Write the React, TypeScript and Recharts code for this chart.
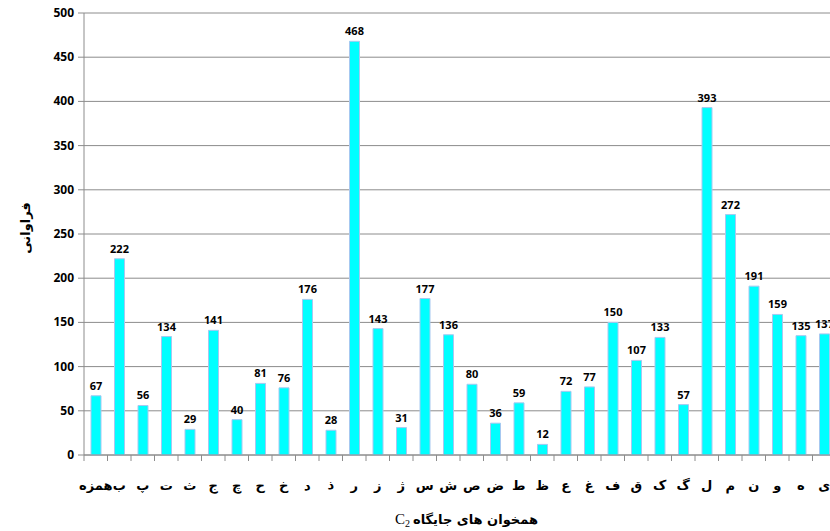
import React from "react";
import { BarChart, Bar, XAxis, YAxis, CartesianGrid, LabelList } from "recharts";

const categories = ["همزه","ب","پ","ت","ث","ج","چ","ح","خ","د","ذ","ر","ز","ژ","س","ش","ص","ض","ط","ظ","ع","غ","ف","ق","ک","گ","ل","م","ن","و","ه","ی"];
const frequencies = [67,222,56,134,29,141,40,81,76,176,28,468,143,31,177,136,80,36,59,12,72,77,150,107,133,57,393,272,191,159,135,137];
const yTicks = [0,50,100,150,200,250,300,350,400,450,500];
const yTitle = "فراوانی";
const xTitle = "همخوان های جایگاه";

const data = categories.map((c, i) => ({ name: c, value: frequencies[i] }));

const CHART_W = 850;
const CHART_H = 531;
const LEFT = 84;
const RIGHT_MARGIN = 14;
const TOP = 13;
const XAXIS_H = 76;
const PLOT_W = CHART_W - LEFT - RIGHT_MARGIN;
const HALF_BAND = PLOT_W / categories.length / 2;
const FONT = "'Noto Sans', 'DejaVu Sans', sans-serif";
const GRID = "#8c8c8c";

const XTick = (props: any) => {
  const { x, y, payload, index } = props;
  return (
    <g>
      <line x1={x - HALF_BAND} x2={x - HALF_BAND} y1={y - 8} y2={y - 2} stroke={GRID} />
      {index === categories.length - 1 ? (
        <line x1={x + HALF_BAND} x2={x + HALF_BAND} y1={y - 8} y2={y - 2} stroke={GRID} />
      ) : null}
      <text x={x} y={y + 27} textAnchor="middle" fontFamily="'DejaVu Sans', sans-serif" fontWeight="bold" fontSize={13} fill="#000">
        {payload.value}
      </text>
    </g>
  );
};

const YTick = (props: any) => {
  const { x, y, payload } = props;
  return (
    <text x={x - 2} y={y} dy={4} textAnchor="end" fontFamily={FONT} fontWeight="bold" fontSize={12} fill="#000">
      {payload.value}
    </text>
  );
};

export default function App() {
  const plotCenterX = LEFT + PLOT_W / 2;
  return (
    <div style={{ position: "fixed", left: 0, top: 0, width: 830, height: 531, overflow: "hidden", background: "#fff" }}>
      <BarChart
        width={CHART_W}
        height={CHART_H}
        data={data}
        margin={{ top: TOP, right: RIGHT_MARGIN, bottom: 0, left: 0 }}
        barCategoryGap={0}
      >
        <CartesianGrid vertical={false} stroke={GRID} strokeWidth={1} />
        <XAxis
          dataKey="name"
          height={XAXIS_H}
          interval={0}
          tickLine={false}
          axisLine={{ stroke: GRID }}
          tick={<XTick />}
        />
        <YAxis
          width={LEFT}
          domain={[0, 500]}
          ticks={yTicks}
          interval={0}
          axisLine={{ stroke: GRID }}
          tickLine={{ stroke: GRID }}
          tickSize={6}
          tick={<YTick />}
        />
        <Bar dataKey="value" fill="#00ffff" stroke="#a6c8f0" strokeWidth={1} barSize={10} isAnimationActive={false}>
          <LabelList
            dataKey="value"
            position="top"
            offset={6}
            style={{ fontFamily: FONT, fontWeight: "bold", fontSize: 11, fill: "#000" }}
          />
        </Bar>
        <text
          x={26}
          y={228}
          transform="rotate(-90 26 228)"
          textAnchor="middle"
          dominantBaseline="middle"
          fontFamily="'DejaVu Sans', sans-serif"
          fontWeight="bold"
          fontSize={13}
          fill="#000"
        >
          {yTitle}
        </text>
        <text
          x={plotCenterX - 47}
          y={524}
          textAnchor="start"
          fontFamily="'DejaVu Sans', sans-serif"
          fontWeight="bold"
          fontSize={13}
          fill="#000"
        >
          {xTitle}
        </text>
        <text
          x={plotCenterX - 50}
          y={524}
          textAnchor="end"
          fontFamily="'Liberation Serif', serif"
          fontSize={15}
          fill="#000"
        >
          C<tspan fontSize={10} dy={3}>2</tspan>
        </text>
      </BarChart>
    </div>
  );
}
